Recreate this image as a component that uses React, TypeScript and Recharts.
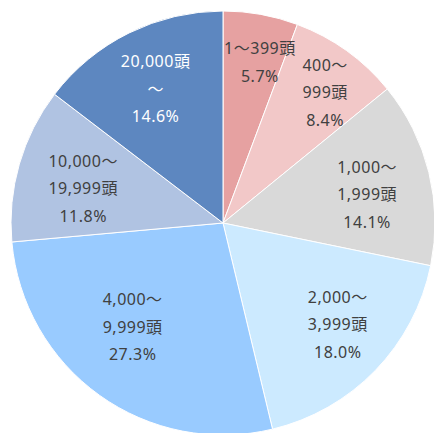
import { Cell, Pie, PieChart } from "recharts";

const categories = [
  "1～399頭",
  "400～\n999頭",
  "1,000～\n1,999頭",
  "2,000～\n3,999頭",
  "4,000～\n9,999頭",
  "10,000～\n19,999頭",
  "20,000頭\n～",
];
const shares = [5.7, 8.4, 14.1, 18.0, 27.3, 11.8, 14.6];
const colors = ["#e6a1a1", "#f2c8c8", "#d9d9d9", "#cceaff", "#99cbff", "#b0c3e2", "#5d87c0"];
const textColors = ["#404040", "#404040", "#404040", "#404040", "#404040", "#404040", "#ffffff"];

// where each label sits: share of the radius, and a small turn off the slice middle (deg, clockwise)
const labelRadius = [0.788, 0.79, 0.695, 0.716, 0.642, 0.682, 0.717];
const labelTurn = [2.5, 1.9, 1.8, -3.2, 5.9, -1.4, 0];

const rows = categories.map((name, i) => ({ name, value: shares[i] }));

const RAD = Math.PI / 180;

function SliceLabel(props: any) {
  const { cx, cy, midAngle, outerRadius, index } = props;
  const r = outerRadius * labelRadius[index];
  const a = midAngle - labelTurn[index];
  const x = cx + r * Math.cos(-a * RAD);
  const y = cy + r * Math.sin(-a * RAD);
  const lines = [...categories[index].split("\n"), `${shares[index].toFixed(1)}%`];
  const step = 27.5;
  const top = y - ((lines.length - 1) * step) / 2 + 2;
  return (
    <text
      x={x}
      y={top}
      fill={textColors[index]}
      textAnchor="middle"
      dominantBaseline="central"
      fontSize={16}
      letterSpacing={0.5}
      fontFamily="'Noto Sans', 'Noto Sans CJK JP', sans-serif"
    >
      {lines.map((line, i) => (
        <tspan key={i} x={x} y={top + i * step}>
          {line}
        </tspan>
      ))}
    </text>
  );
}

export default function App() {
  return (
    <div style={{ position: "fixed", left: 0, top: 0, background: "#fff" }}>
      <PieChart width={434} height={433} margin={{ top: 0, right: 0, bottom: 0, left: 0 }}>
        <Pie
          data={rows}
          dataKey="value"
          cx={223}
          cy={223}
          outerRadius={212}
          startAngle={90}
          endAngle={-270}
          stroke="#ffffff"
          strokeWidth={1}
          label={SliceLabel}
          labelLine={false}
          isAnimationActive={false}
        >
          {rows.map((r, i) => (
            <Cell key={r.name} fill={colors[i]} />
          ))}
        </Pie>
      </PieChart>
    </div>
  );
}
